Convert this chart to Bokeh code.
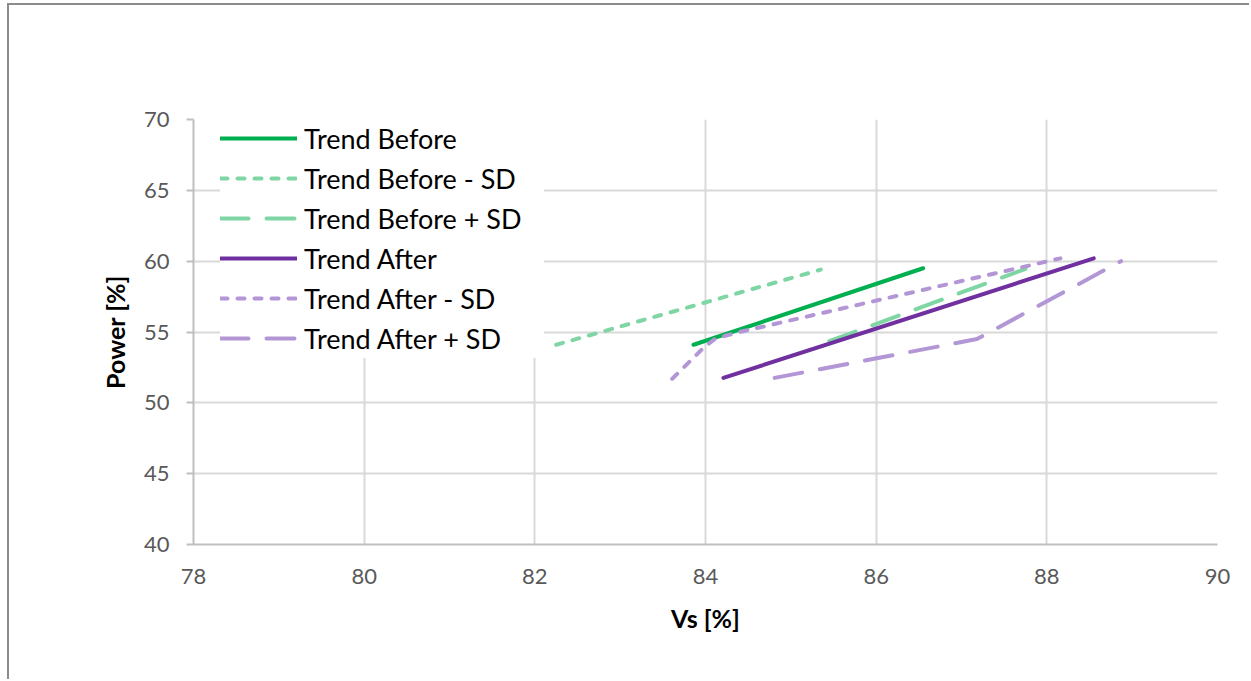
from bokeh.plotting import figure
from bokeh.models import Legend, LegendItem, FixedTicker
from bokeh.embed import file_html
from bokeh.resources import INLINE

# Trend lines, (Vs %, Power %)
trend_before_x = [83.86, 86.55]
trend_before_y = [54.1, 59.5]

trend_before_minus_x = [82.25, 85.35]
trend_before_minus_y = [54.1, 59.4]

trend_before_plus_x = [85.45, 87.75]
trend_before_plus_y = [54.35, 59.46]

trend_after_x = [84.21, 88.55]
trend_after_y = [51.76, 60.2]

trend_after_minus_x = [83.61, 83.98, 84.12, 84.4, 88.16]
trend_after_minus_y = [51.7, 53.9, 54.55, 55.0, 60.2]

trend_after_plus_x = [84.81, 87.18, 88.87]
trend_after_plus_y = [51.76, 54.5, 60.0]

x_ticks = [78, 80, 82, 84, 86, 88, 90]
y_ticks = [40, 45, 50, 55, 60, 65, 70]

GREEN = "#00b050"
LIGHT_GREEN = "#7fd6a4"
PURPLE = "#7030a0"
LIGHT_PURPLE = "#b396d6"
FONT = "Lato"

p = figure(
    width=1242, height=676,
    x_range=(78, 90), y_range=(40, 70),
    output_backend="svg", toolbar_location=None,
    min_border_left=184, min_border_right=34,
    min_border_top=114, min_border_bottom=137,
    margin=(3, 0, 0, 7),
    styles={"border-top": "2px solid #8c8c8c", "border-left": "2px solid #8c8c8c"},
)
p.outline_line_color = None
p.background_fill_color = "white"
p.border_fill_color = "white"

# axes
p.xaxis.ticker = FixedTicker(ticks=x_ticks)
p.yaxis.ticker = FixedTicker(ticks=y_ticks)
for ax in (p.xaxis[0], p.yaxis[0]):
    ax.axis_line_color = "#bfbfbf"
    ax.axis_line_width = 2
    ax.major_tick_line_color = "#bfbfbf"
    ax.major_tick_line_width = 2
    ax.minor_tick_line_color = None
    ax.major_label_text_font = FONT
    ax.major_label_text_font_size = "22px"
    ax.major_label_text_color = "#595959"
    ax.axis_label_text_font = FONT
    ax.axis_label_text_font_size = "25px"
    ax.axis_label_text_font_style = "bold"
    ax.axis_label_text_color = "black"
p.xaxis.major_tick_out = 0
p.xaxis.major_tick_in = 0
p.yaxis.major_tick_out = 7
p.yaxis.major_tick_in = 0
p.xaxis.major_label_standoff = 24
p.yaxis.major_label_standoff = 17
p.xaxis.axis_label = "Vs [%]"
p.yaxis.axis_label = "Power [%]"
p.xaxis.axis_label_standoff = 16
p.yaxis.axis_label_standoff = 11

p.xgrid.grid_line_color = "#d9d9d9"
p.ygrid.grid_line_color = "#d9d9d9"
p.xgrid.grid_line_width = 2
p.ygrid.grid_line_width = 2

W = 4
r1 = p.line(trend_before_x, trend_before_y, line_color=GREEN, line_width=W, line_cap="round")
r2 = p.line(trend_before_minus_x, trend_before_minus_y, line_color=LIGHT_GREEN, line_width=W,
            line_dash="7 10", line_cap="round")
r3 = p.line(trend_before_plus_x, trend_before_plus_y, line_color=LIGHT_GREEN, line_width=W,
            line_dash="28 18", line_cap="round")
r4 = p.line(trend_after_x, trend_after_y, line_color=PURPLE, line_width=W, line_cap="round")
r5 = p.line(trend_after_minus_x, trend_after_minus_y, line_color=LIGHT_PURPLE, line_width=W,
            line_dash="7 10", line_cap="round", line_join="round")
r6 = p.line(trend_after_plus_x, trend_after_plus_y, line_color=LIGHT_PURPLE, line_width=W,
            line_dash="28 18", line_cap="round", line_join="round")

legend = Legend(
    items=[
        LegendItem(label="Trend Before", renderers=[r1]),
        LegendItem(label="Trend Before - SD", renderers=[r2]),
        LegendItem(label="Trend Before + SD", renderers=[r3]),
        LegendItem(label="Trend After", renderers=[r4]),
        LegendItem(label="Trend After - SD", renderers=[r5]),
        LegendItem(label="Trend After + SD", renderers=[r6]),
    ],
    location=(27, 186),
    margin=0,
    padding=15,
    spacing=0,
    glyph_width=77,
    glyph_height=40,
    label_height=40,
    label_width=240,
    label_standoff=7,
    label_text_font=FONT,
    label_text_font_size="27px",
    label_text_color="black",
    border_line_color=None,
    background_fill_color="white",
    background_fill_alpha=1.0,
)
p.add_layout(legend, "center")

open("out.html", "w").write(file_html(p, INLINE))
